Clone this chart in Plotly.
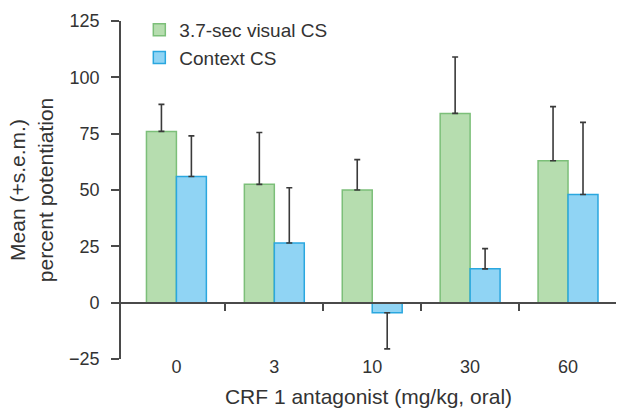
import plotly.graph_objects as go

doses = ["0", "3", "10", "30", "60"]
visual_cs = [76, 52.5, 50, 84, 63]
visual_err_plus = [12, 23, 13.5, 25, 24]
context_cs = [56, 26.5, -4.5, 15, 48]
context_err_plus = [18, 24.5, 0, 9, 32]
context_err_minus = [0, 0, 16, 0, 0]
y_ticks = [-25, 0, 25, 50, 75, 100, 125]

FONT = "Liberation Sans, Arial, Helvetica, sans-serif"
TXT = "#333333"
ERR = "#3a3a3a"
AX = "#4a4a4a"

fig = go.Figure()
fig.add_trace(go.Bar(
    name="3.7-sec visual CS", x=doses, y=visual_cs,
    marker=dict(color="#b6ddaf", line=dict(color="#7cbf79", width=1.5)),
    error_y=dict(type="data", symmetric=False, array=visual_err_plus,
                 arrayminus=[0] * len(doses), color=ERR, thickness=1.6, width=3),
))
fig.add_trace(go.Bar(
    name="Context CS", x=doses, y=context_cs,
    marker=dict(color="#90d4f4", line=dict(color="#2aa7df", width=1.5)),
    error_y=dict(type="data", symmetric=False, array=context_err_plus,
                 arrayminus=context_err_minus, color=ERR, thickness=1.6, width=3),
))
# invisible helper so the zero-level axis (with boundary ticks) is drawn
fig.add_trace(go.Scatter(
    x=list(range(len(doses))), y=[None] * len(doses), xaxis="x2",
    mode="markers", marker=dict(opacity=0), showlegend=False, hoverinfo="skip",
))

xr = [-0.566, 4.49]
boundaries = [i + 0.5 for i in range(len(doses))]

fig.update_layout(
    width=617, height=410,
    margin=dict(l=121, r=1, t=21, b=51, autoexpand=False),
    paper_bgcolor="white", plot_bgcolor="white",
    font=dict(family=FONT, size=18, color=TXT),
    barmode="group", bargap=0.388, bargroupgap=0,
    showlegend=True,
    legend=dict(x=0.037, y=1.03, xanchor="left", yanchor="top",
                font=dict(size=19, color=TXT), bgcolor="rgba(0,0,0,0)",
                itemwidth=30, tracegroupgap=0),
    xaxis=dict(type="category", categoryarray=doses, range=xr,
               showline=False, showgrid=False, zeroline=False, ticks="",
               ticklabelstandoff=-5,
               tickfont=dict(size=18, color=TXT),
               title=dict(text="CRF 1 antagonist (mg/kg, oral)",
                          font=dict(size=21, color=TXT), standoff=13)),
    xaxis2=dict(overlaying="x", anchor="free", position=25 / 150, range=xr,
                tickmode="array", tickvals=boundaries, showticklabels=False,
                showline=True, linecolor=AX, linewidth=1.6,
                ticks="outside", ticklen=8, tickwidth=1.6, tickcolor=AX,
                showgrid=False, zeroline=False),
    yaxis=dict(range=[-25, 125], tickmode="array", tickvals=y_ticks,
               showline=True, linecolor=AX, linewidth=1.6,
               ticks="outside", ticklen=8, tickwidth=1.6, tickcolor=AX,
               ticklabelstandoff=8,
               showgrid=False, zeroline=False,
               tickfont=dict(size=18, color=TXT),
               title=dict(text="Mean (+s.e.m.)<br>percent potentiation",
                          font=dict(size=21, color=TXT), standoff=10)),
)

fig.write_html("out.html", config={"displayModeBar": False},
               post_script="document.body.style.margin='0';document.body.style.overflow='hidden';")
